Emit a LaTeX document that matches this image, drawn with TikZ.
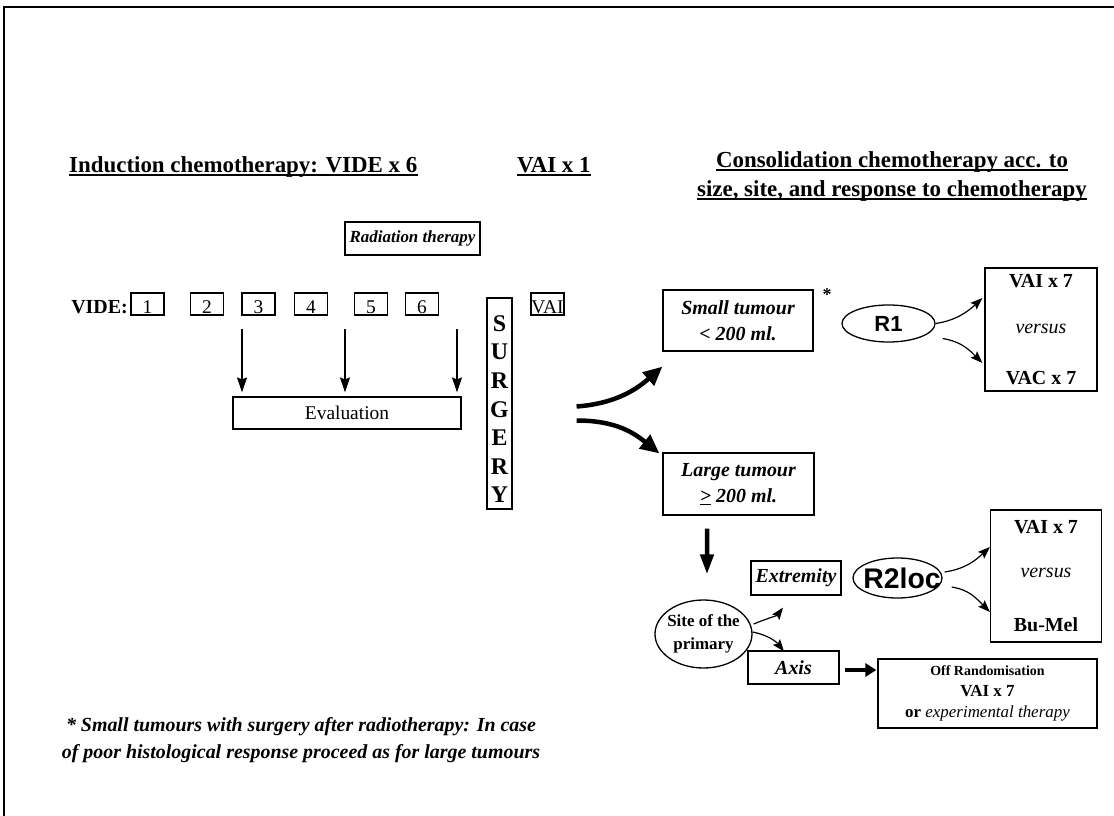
\documentclass[tikz,border=0pt]{standalone}
\usepackage{fontspec}
\setmainfont{Liberation Serif}
\newfontfamily\arialfont{Liberation Sans}
\usepackage{tikz}
\usetikzlibrary{arrows.meta, positioning, calc, shapes.geometric}

\begin{document}
\begin{tikzpicture}[
    x=1bp, y=-1bp,
    box/.style={draw, line width=1.2bp, inner sep=0pt, align=center},
    numbox/.style={box, minimum width=33bp, minimum height=22bp, text height=19bp, text depth=1bp, font=\fontsize{19.5}{22}\selectfont},
    tumbox/.style={box, font=\fontsize{20}{26}\selectfont\bfseries\itshape},
    armbox/.style={box, font=\fontsize{20}{24}\selectfont\bfseries},
    randnode/.style={draw, ellipse, line width=1.3bp, inner sep=0pt, font=\arialfont\bfseries},
    headline/.style={inner sep=0pt, anchor=base, font=\fontsize{23}{29.5}\selectfont\bfseries},
    uline/.style={line width=1.4bp},
    arrow/.style={-{Stealth[length=15bp,width=10bp,inset=2bp]}, line width=1.2bp},
    smallarrow/.style={-{Stealth[length=12bp,width=9bp,inset=2bp]}, line width=1.2bp},
    fatarrow/.style={-{Triangle[length=19bp,width=17bp]}, line width=4.5bp},
    thickarrow/.style={-{Triangle[length=14bp,width=13bp]}, line width=4.5bp}
]
\path[use as bounding box] (0,0) rectangle (1114,816);

% Frame
\draw[line width=2.5bp] (4,816) -- (4,7) -- (1114,7);

% Headings
\node[headline, anchor=base west] (induct) at (69,172) {Induction chemotherapy: VIDE x 6};
\node[headline, anchor=base west] (vaione) at (517,172) {VAI x 1};
\node[headline] (consolA) at (892,167) {Consolidation chemotherapy acc. to};
\node[headline] (consolB) at (892,196) {size, site, and response to chemotherapy};
\draw[uline] ($(induct.base west)+(0,3)$) -- ($(induct.base east)+(0,3)$);
\draw[uline] ($(vaione.base west)+(0,3)$) -- ($(vaione.base east)+(0,3)$);
\draw[uline] ($(consolA.base west)+(0,3)$) -- ($(consolA.base east)+(0,3)$);
\draw[uline] ($(consolB.base west)+(0,3)$) -- ($(consolB.base east)+(0,3)$);

% Radiation
\node[box, minimum width=135bp, minimum height=33bp, font=\fontsize{17}{20}\selectfont\bfseries\itshape] (radio) at (412.5,238.5) {Radiation therapy};

% VIDE cycles
\node[anchor=base east, inner sep=0pt, font=\fontsize{20}{24}\selectfont\bfseries] (videlbl) at (128,313) {VIDE:};
\node[numbox] (c1) at (147.4,304) {1};
\node[numbox] (c2) at (207,304) {2};
\node[numbox] (c3) at (258.5,304) {3};
\node[numbox] (c4) at (311,304) {4};
\node[numbox] (c5) at (371,304) {5};
\node[numbox] (c6) at (422,304) {6};
\node[numbox] (vaic) at (547.5,304) {VAI};

% Evaluation
\node[box, minimum width=228bp, minimum height=32bp, font=\fontsize{19.5}{22}\selectfont] (eval) at (347,413) {Evaluation};

% Surgery
\node[box, minimum width=25bp, minimum height=211bp, font=\fontsize{24}{28.7}\selectfont\bfseries] (surgery) at (499.5,403.5) {\rule{0pt}{27bp}S\\U\\R\\G\\E\\R\\Y};

% Tumour size
\node[tumbox, minimum width=150bp, minimum height=61bp] (small) at (738,320.5) {Small tumour\\< 200 ml.};
\node[inner sep=0pt, anchor=north, font=\fontsize{18}{20}\selectfont\bfseries] (star) at (827,288) {*};
\node[tumbox, minimum width=151bp, minimum height=62bp] (large) at (738.5,484) {Large tumour\\\underline{>} 200 ml.};

% Randomisations
\node[randnode, minimum width=93bp, minimum height=37bp, font=\arialfont\bfseries\fontsize{22}{26}\selectfont] (r1) at (888.5,323.5) {R1};
\node[armbox, minimum width=112bp, minimum height=123bp] (arm1) at (1041,329.5) {VAI x 7\\[23bp]{\mdseries\itshape versus}\\[27bp]VAC x 7};

\node[randnode, inner xsep=-2bp, minimum width=97bp, minimum height=68bp, align=center, font=\fontsize{17}{23}\selectfont\bfseries] (site) at (703.5,634) {Site of the\\primary};
\node[tumbox, minimum width=90bp, minimum height=34bp] (extr) at (796,578) {Extremity};
\node[tumbox, minimum width=91bp, minimum height=33bp] (axis) at (793.5,667.5) {Axis};
\node[randnode, minimum width=89bp, minimum height=40bp, font=\arialfont\bfseries\fontsize{28.5}{31}\selectfont] (r2) at (897.5,578) {\makebox[0pt]{\hspace{9bp}R2loc}};
\node[armbox, minimum width=111bp, minimum height=132bp] (arm2) at (1046,576) {VAI x 7\\[21bp]{\mdseries\itshape versus}\\[30bp]Bu-Mel};
\node[box, minimum width=219bp, minimum height=69bp, font=\fontsize{17}{21}\selectfont\bfseries] (off) at (987.5,693.5) {{\fontsize{14}{17}\selectfont Off Randomisation}\\VAI x 7\\or {\mdseries\itshape experimental therapy}};

% Footnote
\node[inner sep=0pt, align=center, font=\fontsize{20}{27}\selectfont\bfseries\itshape] (note) at (301,740) {* Small tumours with surgery after radiotherapy: In case\\of poor histological response proceed as for large tumours};

% Arrows
\draw[arrow] ($(eval.north)+(-105,-67)$) -- ($(eval.north)+(-105,-4)$);
\draw[arrow] ($(eval.north)+(-2,-67)$) -- ($(eval.north)+(-2,-4)$);
\draw[arrow] ($(eval.north)+(110,-67)$) -- ($(eval.north)+(110,-4)$);

\coordinate (fork) at ($(surgery.east)+(64,10)$);
\draw[fatarrow] ($(fork)+(0,-7)$) .. controls +(40,-3) and +(-25,22) .. ($(small.south west)+(0,15)$);
\draw[fatarrow] ($(fork)+(0,7)$) .. controls +(40,0) and +(-25,-20) .. ($(large.north west)+(-3,1)$);

\draw[smallarrow] (r1.east) .. controls +(20,-3) and +(-15,14) .. ($(arm1.west)+(-2,-31.5)$);
\draw[smallarrow] ($(r1.east)+(7,15)$) .. controls +(18,3) and +(-14,-14) .. ($(arm1.west)+(-2,33.5)$);

\draw[thickarrow, -{Triangle[length=20bp,width=13bp]}] ($(large.south)+(-31.5,13)$) -- ($(site.north)+(3.5,-25)$);
\draw[smallarrow] ($(site.east)+(1,-10)$) .. controls +(12,-5) and +(-6,8) .. ($(extr.south)+(-13,12)$);
\draw[smallarrow] ($(site.east)+(0,-2)$) .. controls +(15,3) and +(-8,-10) .. ($(axis.north)+(-9.5,1)$);

\draw[smallarrow] ($(r2.east)+(2,-6)$) .. controls +(20,-3) and +(-15,14) .. ($(arm2.west)+(0,-29)$);
\draw[smallarrow] ($(r2.east)+(9,9)$) .. controls +(18,3) and +(-14,-14) .. ($(arm2.west)+(0,36)$);

\draw[thickarrow, -{Triangle[length=11bp,width=13bp]}] ($(axis.east)+(5,2.5)$) -- ($(axis.east -| off.west)+(-1,2.5)$);

\end{tikzpicture}
\end{document}
